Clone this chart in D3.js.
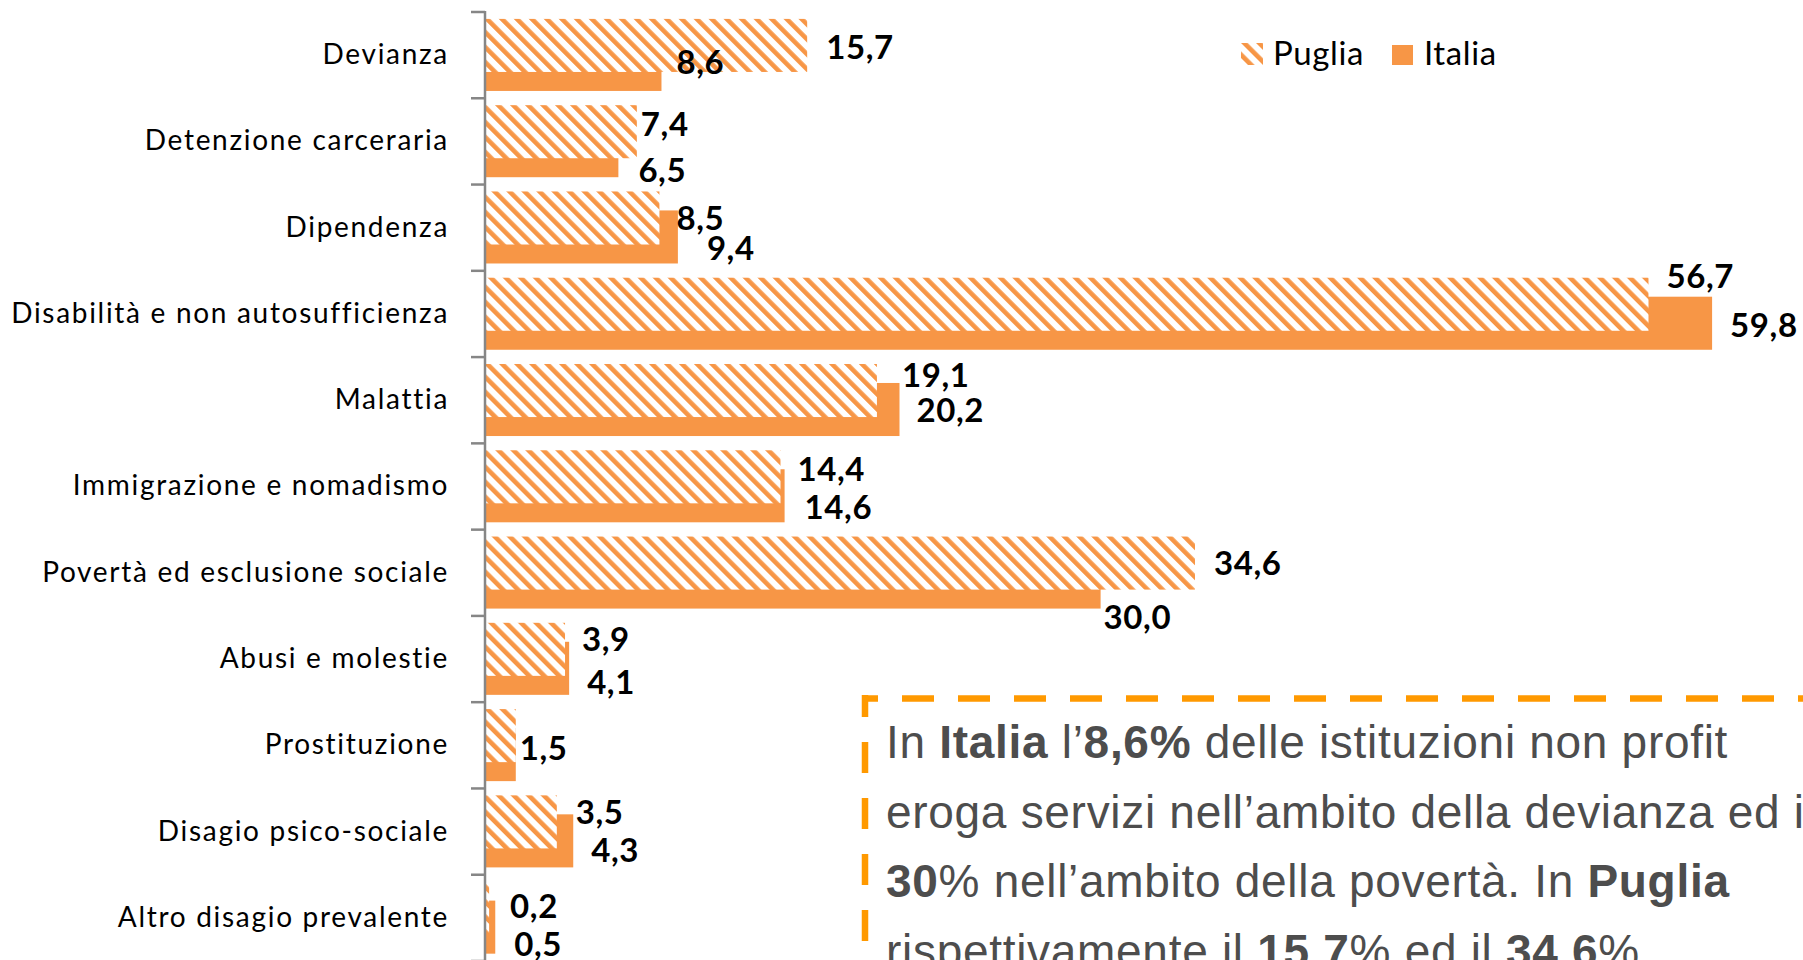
<!DOCTYPE html>
<html>
<head>
<meta charset="utf-8">
<script src="https://cdnjs.cloudflare.com/ajax/libs/d3/7.8.5/d3.min.js"></script>
<style>
    body { margin: 0; background: #fff; }
    svg { display: block; }
</style>
</head>
<body>
<div class="canvas"></div>
<script>
const categories = [
    'Devianza',
    'Detenzione carceraria',
    'Dipendenza',
    'Disabilità e non autosufficienza',
    'Malattia',
    'Immigrazione e nomadismo',
    'Povertà ed esclusione sociale',
    'Abusi e molestie',
    'Prostituzione',
    'Disagio psico-sociale',
    'Altro disagio prevalente'
];
const seriesNames = ['Puglia', 'Italia'];
const puglia = [15.7, 7.4, 8.5, 56.7, 19.1, 14.4, 34.6, 3.9, 1.5, 3.5, 0.2];
const italia = [8.6, 6.5, 9.4, 59.8, 20.2, 14.6, 30.0, 4.1, 1.5, 4.3, 0.5];

// label nudges [dx from bar end, dy from bar middle], null = hidden
const pugliaNudge = [[19, 2], [4, -8], [17, 0], [18, -28], [25, -15], [17, -8], [19, 0], [17, -10], null, [19, -10], [21, -2]];
const italiaNudge = [[15, -2], [20, 19], [29, 11], [18, 2], [17, 1], [20, 11], [3, 35], [18, 14], [4, -6], [18, 9], [19, 17]];

const dimensions = {
    width: 1803,
    height: 960
};

const orange = '#F79646';
const labelFont = 'Lato, "Open Sans", sans-serif';

const svg = d3.select('.canvas')
                .append('svg')
                .attr('width', dimensions.width)
                .attr('height', dimensions.height);

svg.append('rect')
    .attr('width', dimensions.width)
    .attr('height', dimensions.height)
    .attr('fill', '#fff');

const defs = svg.append('defs');

const hatch = defs.append('pattern')
                .attr('id', 'hatch')
                .attr('patternUnits', 'userSpaceOnUse')
                .attr('width', 10.6)
                .attr('height', 10.6)
                .attr('patternTransform', 'rotate(-45)');

hatch.append('rect')
    .attr('width', 10.6)
    .attr('height', 10.6)
    .attr('fill', '#fff');

hatch.append('rect')
    .attr('width', 4.6)
    .attr('height', 10.6)
    .attr('fill', orange);

const x = d3.scaleLinear()
            .domain([0, 60])
            .range([485, 485 + 60 * 20.52]);

const y = d3.scaleBand()
            .domain(categories)
            .range([12, 961]);

const bw = y.bandwidth();
const barH = bw * 0.615;
const offsets = { Puglia: bw * 0.08, Italia: bw * 0.30 };

const rows = categories.map((c, i) => ({
    category: c,
    Puglia: puglia[i],
    Italia: italia[i],
    nudge: { Puglia: pugliaNudge[i], Italia: italiaNudge[i] }
}));

const fmt = d3.formatLocale({ decimal: ',', thousands: '.', grouping: [3], currency: ['', '€'] }).format('.1f');

const graph = svg.append('g');

// Italia under, Puglia hatched on top
['Italia', 'Puglia'].forEach(name => {
    graph.append('g')
        .selectAll('rect')
        .data(rows)
        .enter()
            .append('rect')
            .attr('x', x(0))
            .attr('y', d => y(d.category) + offsets[name])
            .attr('width', d => x(d[name]) - x(0))
            .attr('height', barH)
            .attr('fill', name === 'Puglia' ? 'url(#hatch)' : orange);
});

// axis
const axisGroup = svg.append('g')
                    .attr('transform', `translate(${x(0)}, 0)`);

axisGroup.call(d3.axisLeft(y).tickSize(0).tickPadding(36))
    .call(g => g.select('.domain').remove());

axisGroup.selectAll('text')
    .attr('font-family', labelFont)
    .attr('font-size', 28)
    .attr('letter-spacing', 1.7)
    .attr('fill', '#000');

const bounds = categories.map(c => y(c)).concat([y.range()[1]]);

axisGroup.selectAll('line.bound')
    .data(bounds)
    .enter()
        .append('line')
        .attr('class', 'bound')
        .attr('x1', -14)
        .attr('x2', 0)
        .attr('y1', d => d)
        .attr('y2', d => d)
        .attr('stroke', '#868686')
        .attr('stroke-width', 2.5);

axisGroup.append('line')
    .attr('x1', 0)
    .attr('x2', 0)
    .attr('y1', y.range()[0] - 1)
    .attr('y2', y.range()[1])
    .attr('stroke', '#868686')
    .attr('stroke-width', 2.5);

// value labels
seriesNames.forEach(name => {
    graph.append('g')
        .selectAll('text')
        .data(rows.filter(d => d.nudge[name]))
        .enter()
            .append('text')
            .attr('x', d => x(d[name]) + d.nudge[name][0])
            .attr('y', d => y(d.category) + offsets[name] + barH / 2 + d.nudge[name][1])
            .attr('dy', '0.36em')
            .attr('font-family', labelFont)
            .attr('font-weight', 'bold')
            .attr('font-size', 33)
            .attr('letter-spacing', 0.6)
            .attr('fill', '#000')
            .text(d => fmt(d[name]));
});

// legend
const legendGroup = svg.append('g')
                    .attr('transform', 'translate(1241, 43)');

legendGroup.append('rect')
    .attr('width', 22)
    .attr('height', 22)
    .attr('fill', 'url(#hatch)');

legendGroup.append('text')
    .attr('x', 32)
    .attr('y', 22)
    .attr('font-family', labelFont)
    .attr('font-size', 33)
    .attr('letter-spacing', 0.6)
    .text(seriesNames[0]);

legendGroup.append('rect')
    .attr('x', 151)
    .attr('y', 2)
    .attr('width', 21)
    .attr('height', 20)
    .attr('fill', orange);

legendGroup.append('text')
    .attr('x', 183)
    .attr('y', 22)
    .attr('font-family', labelFont)
    .attr('font-size', 33)
    .attr('letter-spacing', 0.6)
    .text(seriesNames[1]);

// note box
const note = svg.append('g');

note.append('line')
    .attr('x1', 862)
    .attr('x2', dimensions.width + 10)
    .attr('y1', 698.5)
    .attr('y2', 698.5)
    .attr('stroke', '#FF9900')
    .attr('stroke-width', 6.5)
    .attr('stroke-dasharray', '32 24')
    .attr('stroke-dashoffset', 16);

note.append('line')
    .attr('x1', 865)
    .attr('x2', 865)
    .attr('y1', 695)
    .attr('y2', dimensions.height + 10)
    .attr('stroke', '#FF9900')
    .attr('stroke-width', 6.5)
    .attr('stroke-dasharray', '31 25')
    .attr('stroke-dashoffset', 9);

const noteLines = [
    [['In ', false], ['Italia', true], [' l’', false], ['8,6%', true], [' delle istituzioni non profit', false]],
    [['eroga servizi nell’ambito della devianza ed il', false]],
    [['30', true], ['% nell’ambito della povertà. In ', false], ['Puglia', true]],
    [['rispettivamente il ', false], ['15,7', true], ['% ed il ', false], ['34,6', true], ['%', false]]
];

noteLines.forEach((parts, i) => {
    const t = note.append('text')
                .attr('x', 886)
                .attr('y', 758 + i * 69.5)
                .attr('font-family', '"Liberation Sans", Arial, sans-serif')
                .attr('font-size', 46)
                .attr('letter-spacing', 0.7)
                .attr('fill', '#4D4D4D');
    parts.forEach(p => {
        t.append('tspan')
            .attr('font-weight', p[1] ? 'bold' : 'normal')
            .text(p[0]);
    });
});
</script>
</body>
</html>
